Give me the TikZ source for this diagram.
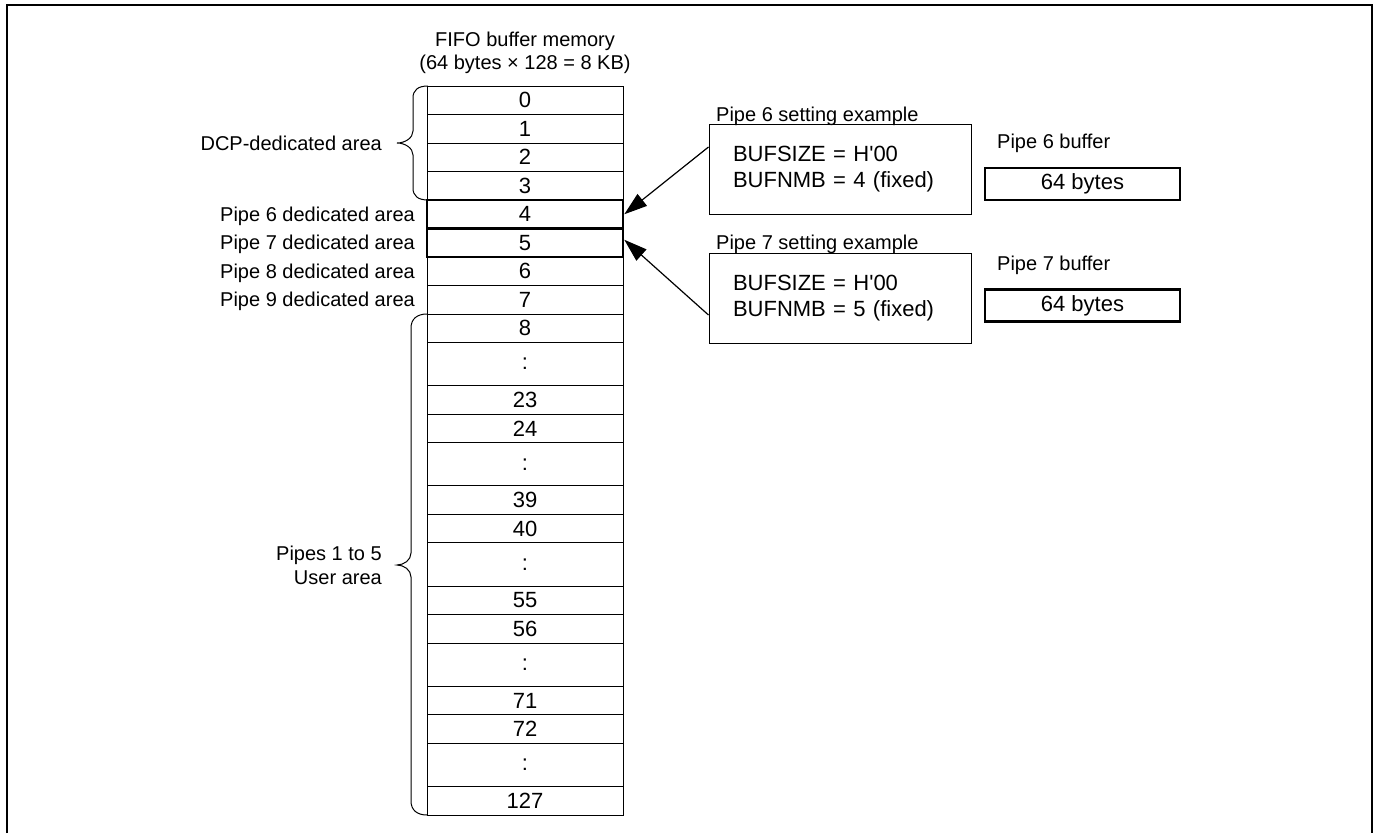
\documentclass[tikz,border=0pt]{standalone}
\usepackage{fontspec}
\setmainfont{Liberation Sans}
\usetikzlibrary{arrows.meta}
\begin{document}
\begin{tikzpicture}[x=1pt,y=-1pt,
 cell/.style={draw, line width=1pt, minimum width=196pt, minimum height=28.5pt, inner sep=0pt, font=\fontsize{22}{26}\selectfont},
 thickcell/.style={cell, line width=2.6pt},
 lbl/.style={inner sep=0pt, font=\fontsize{20}{23}\selectfont, text height=14.3pt, text depth=0pt},
 setbox/.style={draw, line width=1pt, minimum height=90pt, text width=214pt, inner xsep=24pt, inner ysep=0pt, align=left, font=\fontsize{22}{26}\selectfont},
 bufbox/.style={draw, line width=2.4pt, minimum width=195pt, minimum height=32pt, inner sep=0pt, font=\fontsize{22}{26}\selectfont},
 bracepath/.style={line width=1pt},
 arr/.style={line width=1.2pt, -{Triangle[length=23pt,width=15pt]}},
 outerframe/.style={line width=2.7pt}]

\useasboundingbox (0,0) rectangle (1376,833);
\draw[outerframe] (7,833) -- (7,5) -- (1372,5) -- (1372,833);

% title
\node[lbl] (t1) at (525,39) {FIFO buffer memory};
\node[lbl] (t2) at (525,62) {(64 bytes × 128 = 8 KB)};

% column
\foreach \i in {0,...,7} {
  \node[cell] (c\i) at (525,{86+28.5*\i+14.25}) {\i};
}
\foreach \a/\b [count=\g from 0] in {8/23,24/39,40/55,56/71,72/127} {
  \pgfmathsetmacro\s{314+100.2*\g}
  \node[cell] (c\a) at (525,{\s+14.25}) {\a};
  \node[cell, minimum height=43.2pt] (d\g) at (525,{\s+28.5+21.6}) {:};
  \node[cell] (c\b) at (525,{\s+71.7+14.25}) {\b};
}
\node[thickcell] (h4) at (c4) {};
\node[thickcell] (h5) at (c5) {};

% left labels
\node[lbl, anchor=east] (ldcp) at (382,143) {DCP-dedicated area};
\node[lbl, anchor=east] (l6) at (415,214.25) {Pipe 6 dedicated area};
\node[lbl, anchor=east] (l7) at (415,242.75) {Pipe 7 dedicated area};
\node[lbl, anchor=east] (l8) at (415,271.25) {Pipe 8 dedicated area};
\node[lbl, anchor=east] (l9) at (415,299.75) {Pipe 9 dedicated area};
\node[lbl, anchor=east] (u1) at (382,553) {Pipes 1 to 5};
\node[lbl, anchor=east] (u2) at (382,577) {User area};

% braces
\draw[bracepath] (428,86) .. controls (418,86) and (413,90) .. (413,98) -- (413,131)
  .. controls (413,138) and (405,143) .. (397,143)
  .. controls (405,143) and (413,148) .. (413,155) -- (413,188)
  .. controls (413,196) and (418,200) .. (428,200);
\draw[bracepath] (427,314) .. controls (417,314) and (411,319) .. (411,328) -- (411,553)
  .. controls (411,560) and (404,565) .. (397,565)
  .. controls (404,565) and (411,570) .. (411,577) -- (411,801)
  .. controls (411,810) and (417,815) .. (427,815);

% right side
\node[lbl, anchor=west] (p6lab) at (716,114) {Pipe 6 setting example};
\node[setbox] (s6) at (840,169) {BUFSIZE = H\textquotesingle00\\BUFNMB = 4 (fixed)};
\node[lbl, anchor=west] (p7lab) at (716,242) {Pipe 7 setting example};
\node[setbox] (s7) at (840,298) {BUFSIZE = H\textquotesingle00\\BUFNMB = 5 (fixed)};

\node[lbl, anchor=west] (b6lab) at (997,141) {Pipe 6 buffer};
\node[bufbox] (b6) at (1082.5,184) {64 bytes};
\node[lbl, anchor=west] (b7lab) at (997,263) {Pipe 7 buffer};
\node[bufbox] (b7) at (1082.5,305.5) {64 bytes};

\draw[arr] ([yshift=22pt]s6.west) -- (h4.east);
\draw[arr] ([yshift=-17pt]s7.west) -- ([yshift=3pt]h5.east);
\end{tikzpicture}
\end{document}
